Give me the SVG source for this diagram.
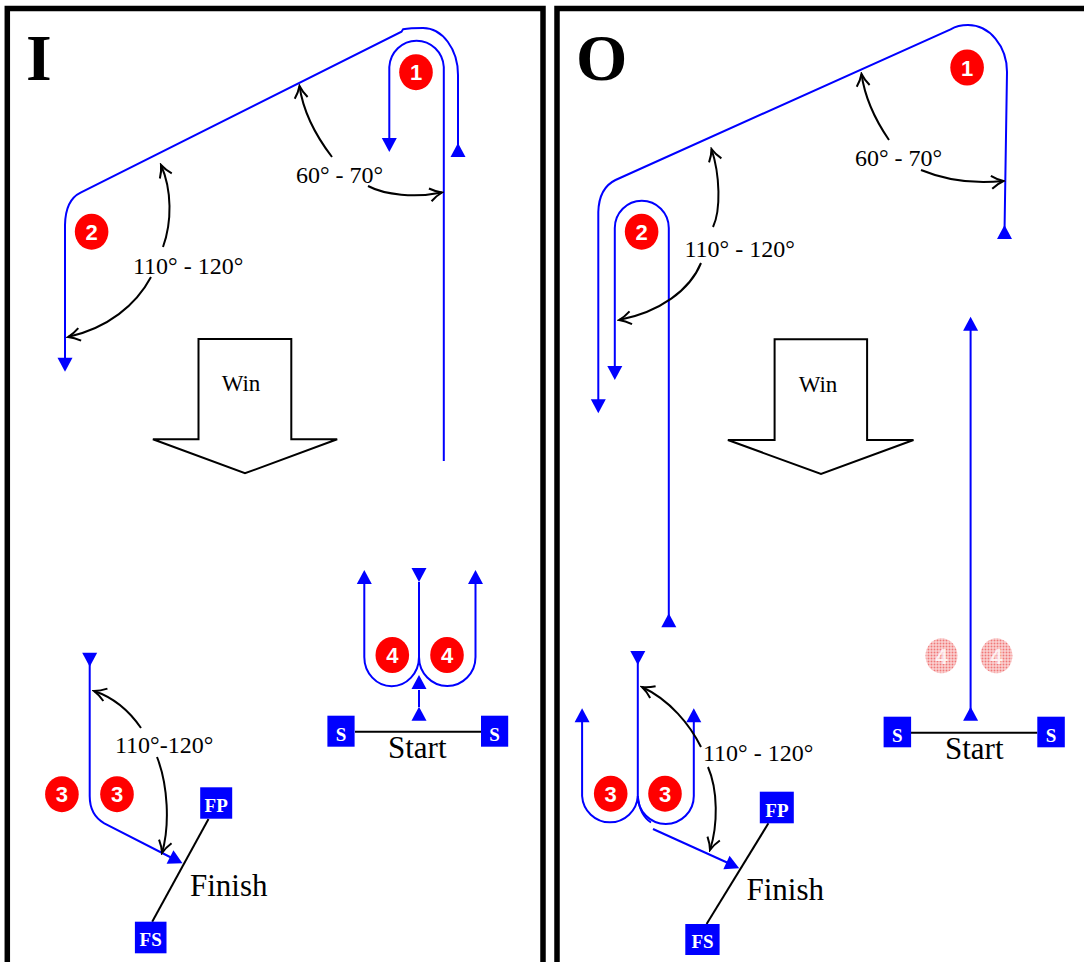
<svg xmlns="http://www.w3.org/2000/svg" width="1084" height="962" viewBox="0 0 1084 962">
<style>
.frame{fill:none;stroke:#000;stroke-width:5.5}
.route{fill:none;stroke:#0000ff;stroke-width:2}
.ang{fill:none;stroke:#000;stroke-width:2;marker-end:url(#ah)}
.blk{fill:none;stroke:#000;stroke-width:2}
.tri{fill:#0000ff}
.cone{fill:#ff0000}
.ghost{fill:url(#ht)}
.num{font-family:"Liberation Sans",Arial,sans-serif;font-weight:bold;font-size:22px;fill:#fff;text-anchor:middle}
.gnum{font-family:"Liberation Sans",Arial,sans-serif;font-weight:bold;font-size:22px;fill:#fff;fill-opacity:0.8;text-anchor:middle}
.lbl{font-family:"Liberation Serif","Times New Roman",serif;font-size:24px;fill:#000}
.big{font-family:"Liberation Serif","Times New Roman",serif;font-size:31px;fill:#000}
.wint{font-family:"Liberation Serif","Times New Roman",serif;font-size:23px;fill:#000}
.title{font-family:"Liberation Serif","Times New Roman",serif;font-size:66px;font-weight:bold;fill:#000}
.box{fill:#0000ff}
.boxt{font-family:"Liberation Serif","Times New Roman",serif;font-weight:bold;font-size:19px;fill:#fff;text-anchor:middle}
.win{fill:#fff;stroke:#000;stroke-width:2;stroke-linejoin:miter}
</style>
<defs>
<marker id="ah" markerUnits="userSpaceOnUse" markerWidth="16" markerHeight="16" viewBox="0 0 16 16" refX="14" refY="8" orient="auto">
<path d="M2,1.5 Q8,6 14,8 Q8,10 2,14.5" fill="none" stroke="#000" stroke-width="2"/>
</marker>
<path id="tri" d="M0,0 L7.5,14 L-7.5,14 Z"/>
<pattern id="ht" width="3" height="3" patternUnits="userSpaceOnUse">
<rect width="3" height="3" fill="#fde6e6"/>
<rect x="0.5" y="0.5" width="2" height="2" fill="#f07878"/>
</pattern>
</defs>
<rect width="1084" height="962" fill="#fff"/>

<g id="frames">
<rect class="frame" x="7.3" y="8.5" width="535.7" height="1000"/>
<rect class="frame" x="557" y="8.5" width="600" height="1000"/>
</g>

<g id="titles">
<text id="title-I" class="title" x="26" y="80">I</text>
<text id="title-O" class="title" x="576" y="80">O</text>
</g>

<g id="connectors">
<path class="route" d="M458,150 L458,75 A35,47 0 0 0 423,28 Q410,28 403,29.3 L401.5,31.7 L80.6,192.7 Q65.5,200 65,225 L65,360"/>
<path class="route" d="M443.8,461 L443.8,67 A27.3,28 0 0 0 389.3,67 L389.3,140"/>
<path class="route" d="M364.3,584 L364.3,657 A27.2,29 0 0 0 419,657 A28.2,29 0 0 0 475.5,657 L475.5,584"/>
<path class="route" d="M419,582 L419,657"/>
<path class="route" d="M419,690 L419,707"/>
<path class="route" d="M89.7,664 L89.7,796 Q89.7,815 104.3,823.3 L171,857.5"/>
<path class="route" d="M1004.5,232 L1007,72 A39,47 0 0 0 968,25 Q958,25 950.6,29.3 L615.5,180 Q599,188 598.3,212 L598.3,402"/>
<path class="route" d="M668.8,620 L668.8,228 A27,27.3 0 0 0 614.8,228 L614.8,368"/>
<path class="route" d="M970.6,320 L970.6,710"/>
<path class="route" d="M582.1,722 L582.1,796 A27.9,28 0 0 0 637.8,796 A28,28 0 0 0 693.8,796 L693.8,722"/>
<path class="route" d="M637.8,662 L637.8,796 Q639.5,815 651,822.5"/>
<path class="route" d="M653,829 L727,862.5"/>
<path class="blk" d="M355,731.7 L481,731.7"/>
<path class="blk" d="M208.5,819 L152.2,921.7"/>
<path class="blk" d="M911,732.7 L1037.3,732.7"/>
<path class="blk" d="M768.4,823.3 L706.6,924"/>
<path class="ang" d="M332,157 C316,136 303,111 299.5,86"/>
<path class="ang" d="M368,186 C385,195 415,198 442,192.5"/>
<path class="ang" d="M163,247 C172,222 172,190 161,165"/>
<path class="ang" d="M151,277 C136,305 108,328 68,337"/>
<path class="ang" d="M141,728 C130,712 115,698 94,691"/>
<path class="ang" d="M157,757 C168,785 170,825 162,853"/>
<path class="ang" d="M889,140 C876,121 865,99 861.5,74"/>
<path class="ang" d="M921,170 C945,180 975,184 1003.5,181"/>
<path class="ang" d="M713,227 C721,210 720,175 711.5,149"/>
<path class="ang" d="M701,263 C690,290 660,312 619,320"/>
<path class="ang" d="M701,747 C690,725 670,700 642,687"/>
<path class="ang" d="M708,767 C718,790 718,825 710,850"/>
</g>

<g id="arrowheads">
<use href="#tri" class="tri" transform="translate(458,143)"/>
<use href="#tri" class="tri" transform="translate(389.3,152) rotate(180)"/>
<use href="#tri" class="tri" transform="translate(65,371.7) rotate(180)"/>
<use href="#tri" class="tri" transform="translate(364.3,570)"/>
<use href="#tri" class="tri" transform="translate(475.5,570)"/>
<use href="#tri" class="tri" transform="translate(419,582) rotate(180)"/>
<use href="#tri" class="tri" transform="translate(419,675)"/>
<use href="#tri" class="tri" transform="translate(419,706.7)"/>
<use href="#tri" class="tri" transform="translate(89.7,666.7) rotate(180)"/>
<use href="#tri" class="tri" transform="translate(182.5,863.3) rotate(117)"/>
<use href="#tri" class="tri" transform="translate(1004.5,225)"/>
<use href="#tri" class="tri" transform="translate(598.3,413.3) rotate(180)"/>
<use href="#tri" class="tri" transform="translate(614.8,380) rotate(180)"/>
<use href="#tri" class="tri" transform="translate(668.8,613.3)"/>
<use href="#tri" class="tri" transform="translate(970.6,316.7)"/>
<use href="#tri" class="tri" transform="translate(970.6,706.7)"/>
<use href="#tri" class="tri" transform="translate(637.8,665) rotate(180)"/>
<use href="#tri" class="tri" transform="translate(582.1,708.3)"/>
<use href="#tri" class="tri" transform="translate(693.8,708.3)"/>
<use href="#tri" class="tri" transform="translate(739.2,868.3) rotate(114.4)"/>
</g>

<g id="win-left">
<path class="win" d="M198.5,339 L291.3,339 L291.3,439.3 L337.2,439.3 L245,473.3 L152.9,439.3 L198.5,439.3 Z"/>
<text class="wint" x="221.7" y="391">Win</text>
</g>
<g id="win-right">
<path class="win" d="M774.6,339.3 L867.1,339.3 L867.1,440 L913.5,440 L821,474 L727.9,440 L774.6,440 Z"/>
<text class="wint" x="798.7" y="392.3">Win</text>
</g>

<g id="cones-left">
<g id="cone-L1"><ellipse class="cone" cx="416" cy="72.2" rx="16.8" ry="18"/><text class="num" x="416" y="80.2">1</text></g>
<g id="cone-L2"><ellipse class="cone" cx="91.6" cy="231.7" rx="16.8" ry="18"/><text class="num" x="91.6" y="239.7">2</text></g>
<g id="cone-L3a"><ellipse class="cone" cx="61.9" cy="794.2" rx="16.8" ry="18"/><text class="num" x="61.9" y="802.2">3</text></g>
<g id="cone-L3b"><ellipse class="cone" cx="117" cy="794.2" rx="16.8" ry="18"/><text class="num" x="117" y="802.2">3</text></g>
<g id="cone-L4a"><ellipse class="cone" cx="392.3" cy="655" rx="16.8" ry="18"/><text class="num" x="392.3" y="663">4</text></g>
<g id="cone-L4b"><ellipse class="cone" cx="447" cy="655" rx="16.8" ry="18"/><text class="num" x="447" y="663">4</text></g>
</g>

<g id="cones-right">
<g id="cone-R1"><ellipse class="cone" cx="967.1" cy="67.5" rx="16.8" ry="18"/><text class="num" x="967.1" y="75.5">1</text></g>
<g id="cone-R2"><ellipse class="cone" cx="641.6" cy="231.7" rx="16.8" ry="18"/><text class="num" x="641.6" y="239.7">2</text></g>
<g id="cone-R3a"><ellipse class="cone" cx="610.7" cy="793.7" rx="16.8" ry="18"/><text class="num" x="610.7" y="801.7">3</text></g>
<g id="cone-R3b"><ellipse class="cone" cx="665" cy="793.7" rx="16.8" ry="18"/><text class="num" x="665" y="801.7">3</text></g>
<g id="cone-R4a"><ellipse class="ghost" cx="941.5" cy="655.8" rx="16" ry="17.5"/><text class="gnum" x="941.5" y="663.8">4</text></g>
<g id="cone-R4b"><ellipse class="ghost" cx="996.4" cy="655.8" rx="16" ry="17.5"/><text class="gnum" x="996.4" y="663.8">4</text></g>
</g>

<g id="start-left">
<rect class="box" x="327.4" y="715.7" width="27.2" height="31"/><text class="boxt" x="341" y="740.7">S</text>
<rect class="box" x="481" y="715.7" width="27.2" height="31"/><text class="boxt" x="494.6" y="740.7">S</text>
<text class="big" x="388" y="758">Start</text>
</g>
<g id="finish-left">
<rect class="box" x="200.2" y="787.3" width="32" height="31.4"/><text class="boxt" x="216.2" y="811.7">FP</text>
<rect class="box" x="134.9" y="921.7" width="31.6" height="31.6"/><text class="boxt" x="150.7" y="946">FS</text>
<text class="big" x="190" y="896">Finish</text>
</g>
<g id="start-right">
<rect class="box" x="883.6" y="716.7" width="27.5" height="30.6"/><text class="boxt" x="897.4" y="741.7">S</text>
<rect class="box" x="1037.3" y="716.7" width="27.5" height="30.6"/><text class="boxt" x="1051" y="741.7">S</text>
<text class="big" x="945" y="759">Start</text>
</g>
<g id="finish-right">
<rect class="box" x="759.8" y="791.7" width="34" height="31.6"/><text class="boxt" x="776.9" y="816.7">FP</text>
<rect class="box" x="685.3" y="924" width="34.3" height="31"/><text class="boxt" x="702.5" y="948.3">FS</text>
<text class="big" x="746.5" y="900">Finish</text>
</g>

<g id="angle-labels">
<text class="lbl" x="296" y="183">60° - 70°</text>
<text class="lbl" x="133" y="274">110° - 120°</text>
<text class="lbl" x="115" y="753">110°-120°</text>
<text class="lbl" x="855" y="165.7">60° - 70°</text>
<text class="lbl" x="684.5" y="256.7">110° - 120°</text>
<text class="lbl" x="703" y="761">110° - 120°</text>
</g>
</svg>
